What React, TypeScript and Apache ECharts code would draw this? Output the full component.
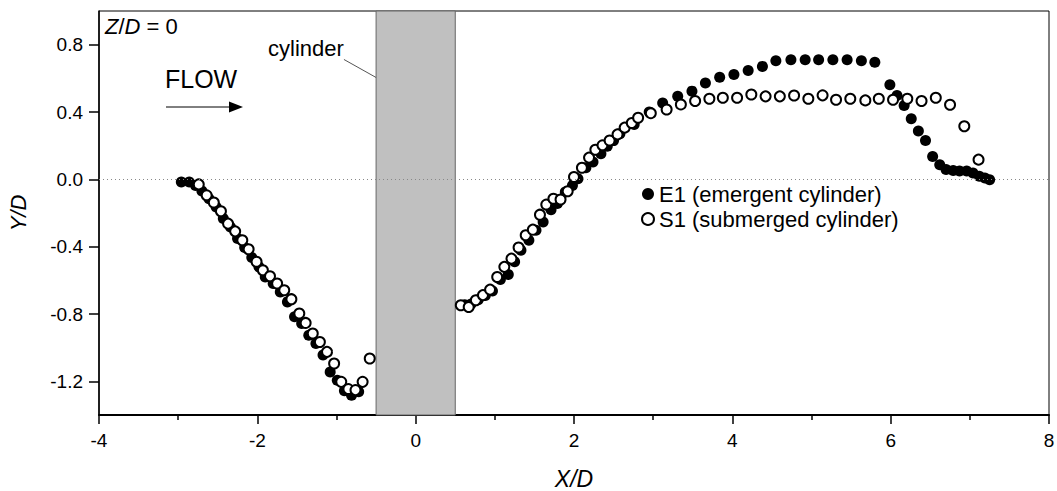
import React, { useEffect, useRef } from "react";
import * as echarts from "echarts";

// E1 (emergent cylinder)
const e1X = [
  -2.96, -2.86, -2.78, -2.7, -2.61, -2.52, -2.43, -2.34, -2.25, -2.16, -2.07, -1.98, -1.9, -1.8, -1.71, -1.62,
  -1.53, -1.44, -1.35, -1.26, -1.17, -1.08, -0.99, -0.9, -0.81, -0.72,
  0.62, 0.7, 0.79, 0.88, 0.97, 1.07, 1.17, 1.25, 1.33, 1.43, 1.52, 1.61, 1.71, 1.79, 1.89, 1.98, 2.05, 2.15,
  2.24, 2.34, 2.42, 2.5, 2.58, 2.76, 2.95, 3.12, 3.31, 3.49, 3.66, 3.84, 4.02, 4.2, 4.38, 4.55, 4.74, 4.92,
  5.09, 5.27, 5.45, 5.63, 5.8, 5.99, 6.08, 6.17, 6.26, 6.35, 6.44, 6.53, 6.62, 6.7, 6.79, 6.87, 6.96, 7.04,
  7.12, 7.19, 7.25,
];
const e1Y = [
  -0.016, -0.016, -0.036, -0.069, -0.115, -0.164, -0.233, -0.283, -0.352, -0.405, -0.465, -0.52, -0.58, -0.619,
  -0.669, -0.728, -0.817, -0.857, -0.926, -0.975, -1.044, -1.144, -1.193, -1.256, -1.282, -1.262,
  -0.745, -0.74, -0.715, -0.69, -0.663, -0.595, -0.566, -0.49, -0.421, -0.362, -0.303, -0.253, -0.18, -0.144,
  -0.075, -0.036, 0.004, 0.069, 0.103, 0.152, 0.196, 0.23, 0.271, 0.326, 0.4, 0.453, 0.493, 0.524, 0.572, 0.607,
  0.623, 0.647, 0.671, 0.705, 0.71, 0.71, 0.71, 0.71, 0.71, 0.705, 0.695, 0.562, 0.498, 0.439, 0.36, 0.287,
  0.231, 0.136, 0.087, 0.059, 0.053, 0.049, 0.049, 0.037, 0.018, 0.008, -0.002,
];

// S1 (submerged cylinder)
const s1X = [
  -2.74, -2.64, -2.55, -2.46, -2.37, -2.28, -2.19, -2.11, -2.01, -1.93, -1.84, -1.75, -1.66, -1.57, -1.47, -1.39,
  -1.3, -1.21, -1.12, -1.03, -0.94, -0.85, -0.76, -0.67, -0.58,
  0.57, 0.67, 0.76, 0.85, 0.94, 1.03, 1.12, 1.21, 1.3, 1.39, 1.48, 1.57, 1.65, 1.74, 1.83, 1.92, 2.0, 2.1, 2.19,
  2.27, 2.36, 2.45, 2.55, 2.64, 2.73, 2.81, 2.97, 3.17, 3.35, 3.53, 3.71, 3.88, 4.06, 4.24, 4.42, 4.6, 4.78,
  4.96, 5.14, 5.31, 5.49, 5.68, 5.85, 6.03, 6.21, 6.39, 6.57, 6.75, 6.93, 7.11,
];
const s1Y = [
  -0.03, -0.095, -0.138, -0.19, -0.263, -0.309, -0.362, -0.415, -0.49, -0.54, -0.576, -0.619, -0.659, -0.712,
  -0.797, -0.853, -0.916, -0.966, -1.025, -1.094, -1.203, -1.246, -1.252, -1.203, -1.064,
  -0.748, -0.758, -0.718, -0.688, -0.655, -0.58, -0.52, -0.471, -0.405, -0.332, -0.299, -0.21, -0.15, -0.115,
  -0.12, -0.071, 0.014, 0.069, 0.129, 0.176, 0.202, 0.231, 0.267, 0.307, 0.335, 0.366, 0.393, 0.415, 0.445,
  0.465, 0.479, 0.485, 0.485, 0.504, 0.493, 0.493, 0.498, 0.479, 0.499, 0.473, 0.479, 0.469, 0.479, 0.473,
  0.479, 0.465, 0.485, 0.443, 0.315, 0.117,
];

const yMajorTicks = [-1.2, -0.8, -0.4, 0, 0.4, 0.8];
const yMinorTicks = [-1.0, -0.6, -0.2, 0.2, 0.6];
const cylinderX = [-0.5, 0.5];
const leaderFrom = [-0.906, 0.712];
const leaderTo = [-0.5, 0.605];

const FONT = "'Liberation Sans', Arial, sans-serif";

export default function App() {
  const ref = useRef<HTMLDivElement>(null);
  useEffect(() => {
    if (!ref.current) return;
    const chart = echarts.init(ref.current, null, { renderer: "svg" });
    const e1 = e1X.map((x, i) => [x, e1Y[i]]);
    const s1 = s1X.map((x, i) => [x, s1Y[i]]);
    const yMin = -1.4;
    const yMax = 1.0;
    chart.setOption({
      animation: false,
      textStyle: { fontFamily: FONT },
      grid: {
        left: 99,
        right: 8,
        top: 11,
        bottom: 76,
        containLabel: false,
        outerBoundsMode: "none",
        show: true,
        borderColor: "#000",
        borderWidth: 1,
      },
      legend: {
        orient: "vertical",
        left: 636,
        top: 178,
        itemWidth: 12,
        itemHeight: 12,
        itemGap: 3,
        icon: "circle",
        textStyle: { fontSize: 22, color: "#000", fontFamily: FONT },
        data: ["E1 (emergent cylinder)", "S1 (submerged cylinder)"],
      },
      xAxis: {
        type: "value",
        min: -4,
        max: 8,
        interval: 2,
        axisLine: { onZero: false, lineStyle: { color: "#000", width: 2 } },
        axisTick: { length: 9, lineStyle: { color: "#000", width: 1.5 } },
        minorTick: { show: true, splitNumber: 2, length: 5, lineStyle: { color: "#000", width: 1.5 } },
        splitLine: { show: false },
        axisLabel: { color: "#000", fontSize: 19, margin: 16, fontFamily: FONT },
        name: "X/D",
        nameLocation: "middle",
        nameGap: 52,
        nameTextStyle: { fontStyle: "italic", fontSize: 23, color: "#000", fontFamily: FONT },
      },
      yAxis: [
        {
          type: "value",
          min: yMin,
          max: yMax,
          axisLine: { onZero: false, lineStyle: { color: "#000", width: 1.5 } },
          axisTick: { length: 10, customValues: yMajorTicks, lineStyle: { color: "#000", width: 1.5 } },
          splitLine: { show: false },
          axisLabel: {
            color: "#000",
            fontSize: 19,
            margin: 16,
            fontFamily: FONT,
            customValues: yMajorTicks,
            formatter: (v: number) => v.toFixed(1),
          },
          name: "Y/D",
          nameLocation: "middle",
          nameGap: 70,
          nameTextStyle: { fontStyle: "italic", fontSize: 22, color: "#000", fontFamily: FONT },
        },
        {
          type: "value",
          position: "left",
          min: yMin,
          max: yMax,
          axisLine: { show: false },
          axisTick: { show: true, length: 5, customValues: yMinorTicks, lineStyle: { color: "#000", width: 1.5 } },
          axisLabel: { show: false },
          splitLine: { show: false },
        },
      ],
      series: [
        {
          name: "E1 (emergent cylinder)",
          type: "scatter",
          data: e1,
          symbol: "circle",
          symbolSize: 11,
          itemStyle: { color: "#000", opacity: 1 },
          z: 3,
          markArea: {
            silent: true,
            itemStyle: { color: "#c0c0c0", borderColor: "#666", borderWidth: 1, opacity: 1 },
            data: [[{ xAxis: cylinderX[0], yAxis: yMin }, { xAxis: cylinderX[1], yAxis: yMax }]],
          },
          markLine: {
            silent: true,
            symbol: "none",
            label: { show: false },
            data: [
              { yAxis: 0, lineStyle: { color: "#888", width: 1, type: [1, 3] } },
              [
                { coord: leaderFrom, lineStyle: { color: "#555", width: 1, type: "solid" } },
                { coord: leaderTo },
              ],
            ],
          },
        },
        {
          name: "S1 (submerged cylinder)",
          type: "scatter",
          data: s1,
          symbol: "circle",
          symbolSize: 10,
          itemStyle: { color: "#fff", borderColor: "#000", borderWidth: 2, opacity: 1 },
          z: 4,
        },
      ],
      graphic: [
        {
          type: "text",
          left: 105,
          top: 15,
          style: {
            text: "{i|Z}/{i|D} = 0",
            fontSize: 22,
            fontFamily: FONT,
            fill: "#000",
            rich: { i: { fontStyle: "italic", fontSize: 22, fontFamily: FONT } },
          },
        },
        {
          type: "text",
          left: 268,
          top: 37,
          style: { text: "cylinder", fontSize: 22, fontFamily: FONT, fill: "#000" },
        },
        {
          type: "text",
          left: 165,
          top: 66,
          style: { text: "FLOW", fontSize: 25, fontFamily: FONT, fill: "#000" },
        },
        {
          type: "line",
          shape: { x1: 166, y1: 107, x2: 231, y2: 107 },
          style: { stroke: "#000", lineWidth: 1 },
        },
        {
          type: "polygon",
          shape: { points: [[229, 101.5], [243, 107], [229, 112.5]] },
          style: { fill: "#000" },
        },
      ],
    });
    return () => chart.dispose();
  }, []);
  return <div ref={ref} style={{ position: "absolute", left: 0, top: 0, width: 1057, height: 491 }} />;
}
